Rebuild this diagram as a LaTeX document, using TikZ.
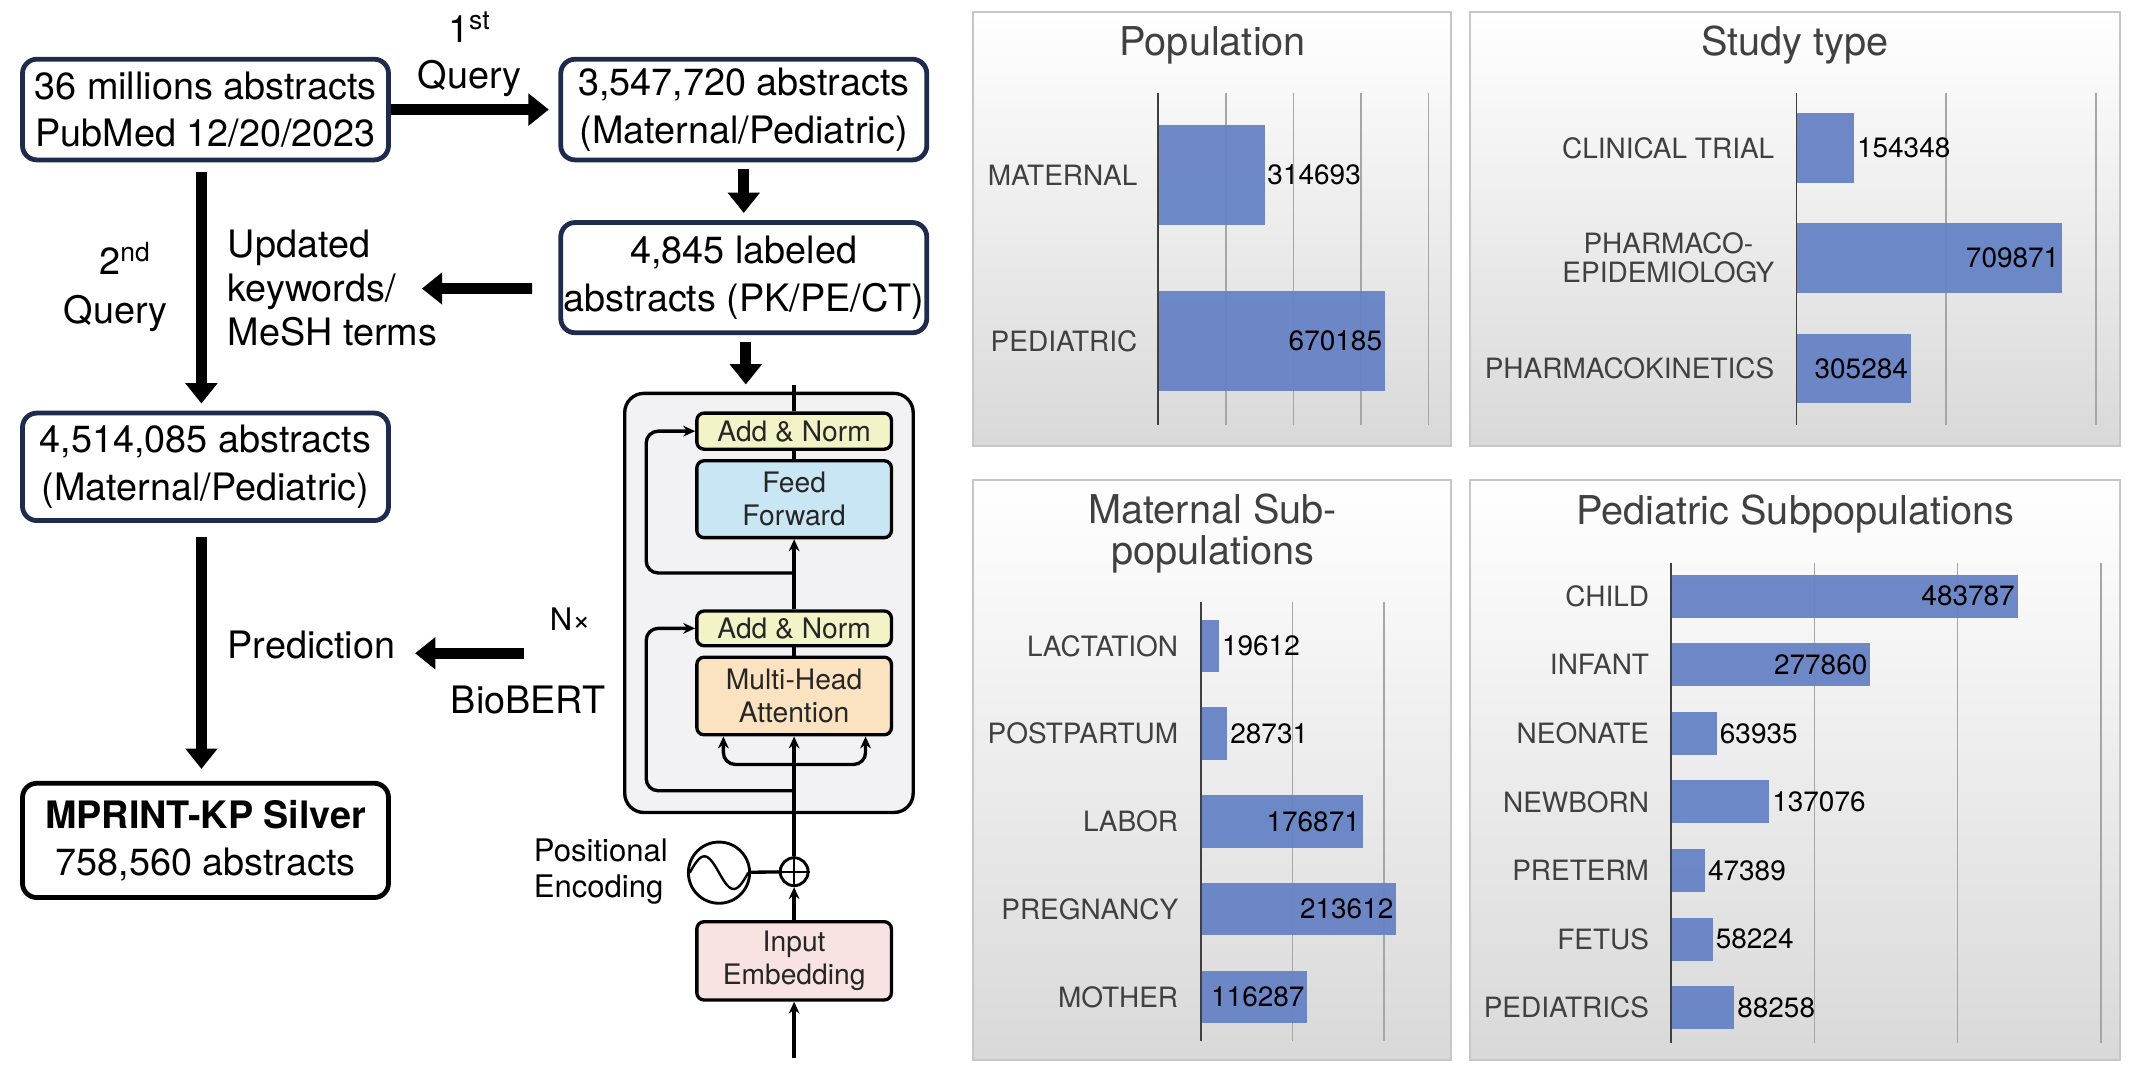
\documentclass[tikz,border=0pt]{standalone}
\usepackage{fontspec}
\setmainfont{TeX Gyre Heros}
\usetikzlibrary{arrows.meta}
\usetikzlibrary{positioning}

\definecolor{boxnavy}{HTML}{1E2B4D}
\definecolor{blockgray}{HTML}{F2F2F4}
\definecolor{normyellow}{HTML}{F2F4C8}
\definecolor{ffblue}{HTML}{C9E6F5}
\definecolor{mhaorange}{HTML}{FBE3C1}
\definecolor{embpink}{HTML}{F8E2E2}
\definecolor{barblue}{HTML}{6783C5}
\definecolor{chartgray}{HTML}{404040}
\definecolor{gridgray}{HTML}{A6A6A6}

\newcommand{\flowfont}{\fontsize{15.8}{19.8}\selectfont}
\newcommand{\notefont}{\fontsize{15.8}{18.4}\selectfont}
\newcommand{\tffont}{\fontsize{11.8}{13.8}\selectfont}
\newcommand{\peufont}{\fontsize{13}{15.3}\selectfont}
\newcommand{\chartfont}{\fontsize{11.7}{12.2}\selectfont}
\newcommand{\panelfont}{\fontsize{16.6}{17}\selectfont}

\begin{document}
\begin{tikzpicture}[x = 0.02cm, y = -0.02cm,
	flowbox/.style = {draw = boxnavy, line width = 2pt, rounded corners = 6pt, fill = white, minimum width = 5.38cm, minimum height = 1.48cm, inner sep = 0pt, align = center, font = \flowfont},
	bigarrow/.style = {line width = 4.5pt, -{Triangle[width = 13pt, length = 8.5pt]}},
	tbox/.style = {draw, line width = 1.4pt, rounded corners = 3pt, minimum width = 2.86cm, inner sep = 0pt, align = center, font = \tffont, text = black!85},
	tline/.style = {line width = 1.4pt},
	tarrow/.style = {line width = 1.4pt, -{Stealth[length = 5pt, width = 4.5pt]}},
	panel/.style = {draw = black!22, line width = 0.8pt, top color = white, bottom color = black!15},
	gridline/.style = {draw = gridgray, line width = 0.6pt},
	axisline/.style = {draw = chartgray, line width = 0.8pt},
	barfill/.style = {fill = barblue, fill opacity = 0.95},
	catlabel/.style = {anchor = east, inner sep = 0pt, text = chartgray, font = \chartfont, align = center},
	vallabel/.style = {inner sep = 1pt, font = \chartfont},
	paneltitle/.style = {text = chartgray, font = \panelfont, align = center}]
			%\draw[help lines, step = 50] (0,0) grid (1568,788);
			\useasboundingbox (0, 0) rectangle (1568, 788);
			
			\node[flowbox] (src) at (151, 80.5) {36 millions abstracts\\PubMed 12/20/2023};
			\node[flowbox] (first) at (546.5, 80.5) {3,547,720 abstracts\\(Maternal/Pediatric)};
			\node[flowbox, minimum height = 1.62cm] (labeled) at (546.5, 204) {4,845 labeled\\abstracts (PK/PE/CT)};
			\node[flowbox, minimum height = 1.58cm] (second) at (151, 343) {4,514,085 abstracts\\(Maternal/Pediatric)};
			\node[flowbox, draw = black, minimum height = 1.68cm] (silver) at (151, 617.5) {\textbf{MPRINT-KP Silver}\\758,560 abstracts};
			
			\draw[bigarrow] (src.east) -- ([xshift = -4pt]first.west);
			\node[font = \flowfont] (q1num) at (345, 20) {1\textsuperscript{st}};
			\node[font = \flowfont] (q1txt) at (345, 58) {Query};
			\draw[bigarrow] ([yshift = -3pt]first.south) -- ([yshift = 3pt]labeled.north);
			\draw[bigarrow] ([yshift = -4pt]src.south -| 148, 0) -- ([yshift = 3pt]second.north -| 148, 0);
			\node[font = \flowfont] (q2num) at (92, 190) {2\textsuperscript{nd}};
			\node[font = \flowfont] (q2txt) at (85, 230) {Query};
			\coordinate (kwend) at (310, 212);
			\draw[bigarrow] ([xshift = -11pt, yshift = -4.5pt]labeled.west) -- (kwend);
			\node[font = \notefont, anchor = west, align = left, inner sep = 0pt] (keywords) at (167, 212) {Updated\\keywords/\\MeSH terms};
			\draw[bigarrow] ([yshift = -6pt]second.south -| 148, 0) -- ([yshift = 5pt]silver.north -| 148, 0);
			\node[font = \flowfont, anchor = west, inner sep = 0pt] (pred) at (167, 474) {Prediction};
			\coordinate (predstart) at (385, 480);
			\coordinate (predend) at (305, 480);
			\draw[bigarrow] (predstart) -- (predend);
			
			\node[draw, line width = 1.4pt, rounded corners = 8pt, fill = blockgray, minimum width = 4.24cm, minimum height = 6.16cm] (block) at (565, 443) {};
			\draw[bigarrow] ([yshift = -3pt]labeled.south -| 548, 0) -- ([yshift = 3pt]block.north -| 548, 0);
			\node[tbox, fill = normyellow, minimum height = 0.53cm] (addtop) at (583.5, 316.8) {Add \& Norm};
			\node[tbox, fill = ffblue, minimum height = 1.13cm] (ff) at (583.5, 366.8) {Feed\\Forward};
			\node[tbox, fill = normyellow, minimum height = 0.51cm] (addbot) at (583.5, 461.7) {Add \& Norm};
			\node[tbox, fill = mhaorange, minimum height = 1.14cm] (mha) at (583.5, 511.4) {Multi-Head\\Attention};
			\node[tbox, fill = embpink, minimum height = 1.15cm] (emb) at (583.5, 706) {Input\\Embedding};
			\node[draw, circle, line width = 1.2pt, minimum size = 0.41cm, inner sep = 0pt, fill = white] (plus) at (583.5, 640.5) {};
			\node[draw, circle, line width = 1.2pt, minimum size = 0.9cm, inner sep = 0pt] (posenc) at (528.3, 641.2) {};
			\draw[line width = 1pt] (plus.north) -- (plus.south) (plus.west) -- (plus.east);
			\draw[line width = 1pt, domain = -1:1, samples = 40] plot ({528.3 + 21.5*\x}, {641.2 + 12*sin(180*\x)});
			\draw[tline] (posenc) -- (plus);
			\node[font = \peufont, anchor = east, align = left, inner sep = 0pt] (poslab) at (491, 640.5) {Positional\\Encoding};
			
			\coordinate (inp) at (583.5, 777.5);
			\coordinate (blocktop) at (583.5, 283);
			\coordinate (skiptop) at (583.5, 421);
			\coordinate (skipbot) at (583.5, 581);
			\coordinate (split) at (583.5, 561.7);
			\draw[tarrow] (inp) -- (emb);
			\draw[tarrow] (emb) -- (plus);
			\draw[tarrow] (plus) -- (mha);
			\draw[tline] (mha) -- (addbot);
			\draw[tarrow] (addbot) -- (ff);
			\draw[tline] (ff) -- (addtop);
			\draw[tline] (addtop) -- (blocktop);
			\draw[tarrow, rounded corners = 5pt] (skiptop) -- (474.8, 421) -- (474.8, 316.8) -- (addtop.west);
			\draw[tarrow, rounded corners = 5pt] (skipbot) -- (474.8, 581) -- (474.8, 461.7) -- (addbot.west);
			\draw[tarrow, rounded corners = 5pt] (split) -| ([xshift = -1.04cm]mha.south);
			\draw[tarrow, rounded corners = 5pt] (split) -| ([xshift = 1.05cm]mha.south);
			\node[font = \peufont] (nx) at (419, 455) {N×};
			\node[font = \flowfont] (biobert) at (388, 514) {BioBERT};
			
			% Population
			\shadedraw[panel] (715, 9) rectangle (1066, 328);
			\node[paneltitle] (poptitle) at (891, 33) {Population};
			\draw[gridline] (900.7, 68) -- (900.7, 312.3);
			\draw[gridline] (950.4, 68) -- (950.4, 312.3);
			\draw[gridline] (1000.1, 68) -- (1000.1, 312.3);
			\draw[gridline] (1049.8, 68) -- (1049.8, 312.3);
			\fill[barfill] (851, 92) rectangle ++(78.2, 73.5);
			\fill[barfill] (851, 214) rectangle ++(166.6, 73.5);
			\draw[axisline] (851, 68) -- (851, 312.3);
			\node[catlabel] (popmat) at (836, 128.75) {MATERNAL};
			\node[catlabel] (popped) at (836, 250.75) {PEDIATRIC};
			\node[vallabel, anchor = west] (popmatv) at (929.2, 128.75) {314693};
			\node[vallabel, anchor = east] (poppedv) at (1017.6, 250.75) {670185};
			
			% Study type
			\shadedraw[panel] (1080, 9) rectangle (1558, 328);
			\node[paneltitle] (studytitle) at (1319, 33) {Study type};
			\draw[gridline] (1430, 68) -- (1430, 312.3);
			\draw[gridline] (1540, 68) -- (1540, 312.3);
			\fill[barfill] (1320, 83.3) rectangle ++(42.4, 50.9);
			\fill[barfill] (1320, 164.1) rectangle ++(195.2, 50.9);
			\fill[barfill] (1320, 245.4) rectangle ++(84, 50.9);
			\draw[axisline] (1320, 68) -- (1320, 312.3);
			\node[catlabel] (ct) at (1304, 108.75) {CLINICAL TRIAL};
			\node[catlabel] (pe) at (1304, 189.55) {PHARMACO-\\EPIDEMIOLOGY};
			\node[catlabel] (pk) at (1304, 270.85) {PHARMACOKINETICS};
			\node[vallabel, anchor = west] (ctv) at (1362.4, 108.75) {154348};
			\node[vallabel, anchor = east] (pev) at (1515.2, 189.55) {709871};
			\node[vallabel, anchor = east] (pkv) at (1404, 270.85) {305284};
			
			% Maternal subpopulations
			\shadedraw[panel] (715, 353) rectangle (1066, 779);
			\node[paneltitle] (mattitle) at (891, 392) {Maternal Sub-\\populations};
			\draw[gridline] (949.6, 442.3) -- (949.6, 764.6);
			\draw[gridline] (1016.8, 442.3) -- (1016.8, 764.6);
			\fill[barfill] (882.6, 455.35) rectangle ++(13.2, 38.5);
			\fill[barfill] (882.6, 519.75) rectangle ++(19.3, 38.5);
			\fill[barfill] (882.6, 584.35) rectangle ++(118.7, 38.5);
			\fill[barfill] (882.6, 648.75) rectangle ++(143.3, 38.5);
			\fill[barfill] (882.6, 713.25) rectangle ++(78, 38.5);
			\draw[axisline] (882.6, 442.3) -- (882.6, 764.6);
			\node[catlabel] (lact) at (866, 474.6) {LACTATION};
			\node[catlabel] (post) at (866, 539) {POSTPARTUM};
			\node[catlabel] (labor) at (866, 603.6) {LABOR};
			\node[catlabel] (preg) at (866, 668) {PREGNANCY};
			\node[catlabel] (moth) at (866, 732.5) {MOTHER};
			\node[vallabel, anchor = west] (lactv) at (895.8, 474.6) {19612};
			\node[vallabel, anchor = west] (postv) at (901.9, 539) {28731};
			\node[vallabel, anchor = east] (laborv) at (1001.3, 603.6) {176871};
			\node[vallabel, anchor = east] (pregv) at (1025.9, 668) {213612};
			\node[vallabel, anchor = east] (mothv) at (960.6, 732.5) {116287};
			
			% Pediatric subpopulations
			\shadedraw[panel] (1080, 353) rectangle (1558, 779);
			\node[paneltitle] (pedtitle) at (1319, 378) {Pediatric Subpopulations};
			\draw[gridline] (1333.2, 413.5) -- (1333.2, 766);
			\draw[gridline] (1438.4, 413.5) -- (1438.4, 766);
			\draw[gridline] (1543.6, 413.5) -- (1543.6, 766);
			\fill[barfill] (1228, 422.15) rectangle ++(254.5, 31.7);
			\fill[barfill] (1228, 472.55) rectangle ++(146.2, 31.7);
			\fill[barfill] (1228, 522.95) rectangle ++(33.6, 31.7);
			\fill[barfill] (1228, 573.35) rectangle ++(72.1, 31.7);
			\fill[barfill] (1228, 623.75) rectangle ++(24.9, 31.7);
			\fill[barfill] (1228, 674.15) rectangle ++(30.6, 31.7);
			\fill[barfill] (1228, 724.55) rectangle ++(46.4, 31.7);
			\draw[axisline] (1228, 413.5) -- (1228, 766);
			\node[catlabel] (child) at (1212, 438) {CHILD};
			\node[catlabel] (infant) at (1212, 488.4) {INFANT};
			\node[catlabel] (neonate) at (1212, 538.8) {NEONATE};
			\node[catlabel] (newborn) at (1212, 589.2) {NEWBORN};
			\node[catlabel] (preterm) at (1212, 639.6) {PRETERM};
			\node[catlabel] (fetus) at (1212, 690) {FETUS};
			\node[catlabel] (peds) at (1212, 740.4) {PEDIATRICS};
			\node[vallabel, anchor = east] (childv) at (1482.5, 438) {483787};
			\node[vallabel, anchor = east] (infantv) at (1374.2, 488.4) {277860};
			\node[vallabel, anchor = west] (neonatev) at (1261.6, 538.8) {63935};
			\node[vallabel, anchor = west] (newbornv) at (1300.1, 589.2) {137076};
			\node[vallabel, anchor = west] (pretermv) at (1252.9, 639.6) {47389};
			\node[vallabel, anchor = west] (fetusv) at (1258.6, 690) {58224};
			\node[vallabel, anchor = west] (pedsv) at (1274.4, 740.4) {88258};
			
		\end{tikzpicture}
\end{document}
